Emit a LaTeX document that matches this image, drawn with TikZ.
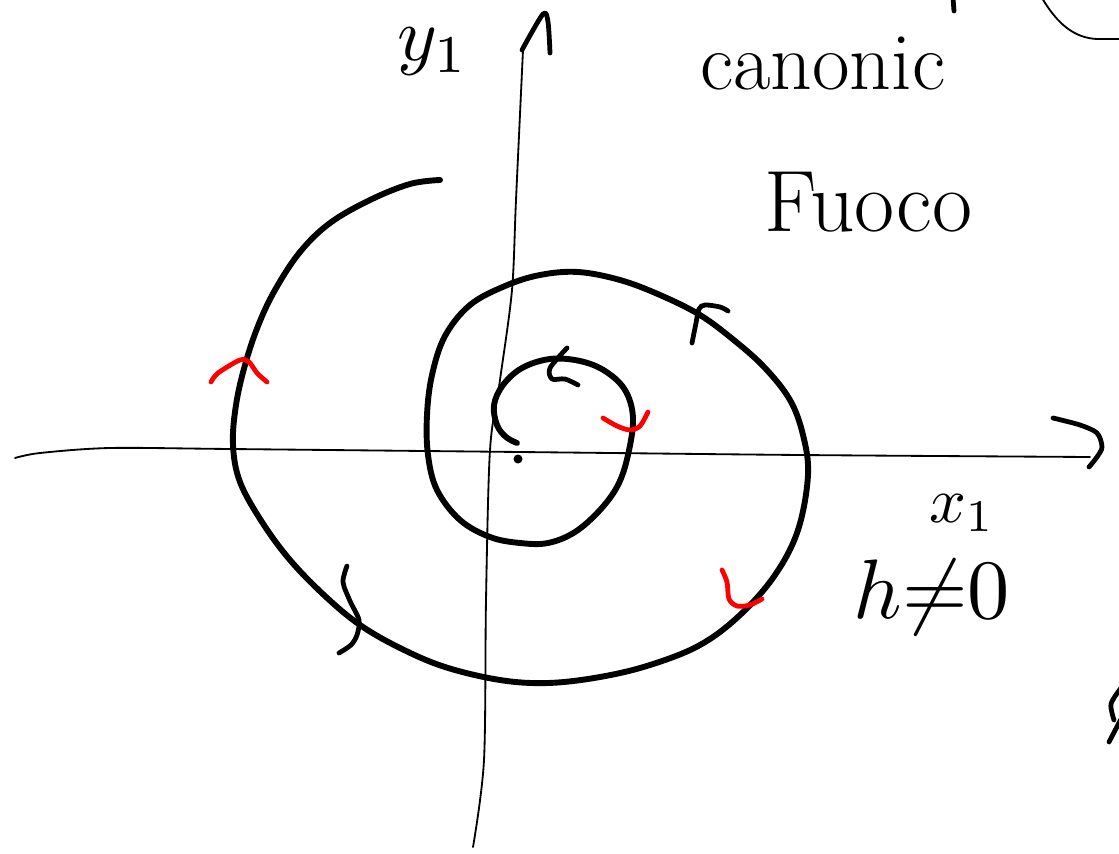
\documentclass[tikz,border=0pt]{standalone}
\usepackage{graphicx}
\usepackage{tikz}
\usetikzlibrary{positioning}
\tikzset{
  asse/.style={line width=1.3pt, line cap=round, line join=round},
  spira/.style={line width=4.2pt, line cap=round, line join=round},
  verso/.style={line width=3.4pt, line cap=round, line join=round},
  scritta/.style={inner sep=0pt},
}

\begin{document}
\begin{tikzpicture}[x=0.025cm, y=-0.025cm]
		\useasboundingbox (0,0) rectangle (1119,854);
		% assi
		\draw[asse] plot[smooth] coordinates {(15,458) (40,453) (110,448) (230,449) (520,452) (800,455) (1090,457)};
		\draw[asse] plot[smooth] coordinates {(523,50) (516,200) (512,290) (500,380) (490,450) (486,600) (484,760) (473,847)};
		\draw[verso] plot[smooth] coordinates {(1053,418) (1080,425) (1097,433) (1102,447) (1097,457) (1089,467)};
		\draw[verso] plot[smooth] coordinates {(522,50) (543,14) (548,22) (550,53)};
		% spirale
		\draw[spira] plot[smooth, tension=0.6] coordinates {
			(440,180) (410,184) (370,200) (330,223) (300,252) (275,290) (258,326) (245,365)
			(236,405) (233,445) (240,482) (262,522) (290,560) (325,596) (360,625) (400,648)
			(445,667) (500,680) (548,683) (600,677) (650,665) (700,645) (740,615) (775,575)
			(798,530) (808,475) (803,435) (790,400) (765,368) (735,341) (700,315) (660,295)
			(620,280) (578,272) (540,275) (505,286) (470,305) (445,336) (432,375) (427,415)
			(428,455) (437,490) (460,520) (490,537) (520,543) (548,543) (575,532) (600,510)
			(618,485) (628,455) (633,418) (625,390) (605,371) (580,361) (550,359) (522,368)
			(503,385) (494,405) (497,425) (506,437) (517,443)};
		\fill (518,459) circle (4.5);
		% versi di percorrenza
		\draw[verso] plot[smooth] coordinates {(692,343) (696,323) (699,309) (705,305) (720,307) (728,311)};
		\draw[verso] plot[smooth] coordinates {(567,348) (550,368) (552,379) (565,379) (578,385)};
		\draw[verso] plot[smooth] coordinates {(347,566) (343,582) (350,601) (359,620) (357,635) (351,645) (339,653)};
		\draw[verso, red] plot[smooth] coordinates {(211,382) (218,373) (240,360) (249,362) (257,373) (267,382)};
		\draw[verso, red] plot[smooth] coordinates {(603,418) (617,426) (630,430) (640,426) (648,412)};
		\draw[verso, red] plot[smooth] coordinates {(722,570) (727,582) (729,599) (737,606) (750,605) (762,599)};
		% tracce ai bordi
		\draw[asse] (1042,-2) .. controls (1058,25) and (1075,38) .. (1097,39) -- (1121,39);
		\draw[verso] (953,-2) -- (954,11);
		\draw[verso] plot[smooth] coordinates {(1121,688) (1111,704) (1114,720)};
		\draw[verso] (1121,719) -- (1109,742);
		% scritte
		\node[scritta, anchor=base west, font=\fontsize{58}{60}\selectfont] (lcan) at (700,90) {canonic};
		\node[scritta, anchor=base west, font=\fontsize{62}{64}\selectfont] (lfuoco) at (764,231) {Fuoco};
		\node[scritta] (lx) at (962,513) {\scalebox{4.6}{$x_1$}};
		\node[scritta] (lh) at (932,597) {\scalebox{6}{$h{\neq}0$}};
		\node[scritta] (ly) at (433,52) {\scalebox{5.4}{$y_1$}};
	\end{tikzpicture}
\end{document}
